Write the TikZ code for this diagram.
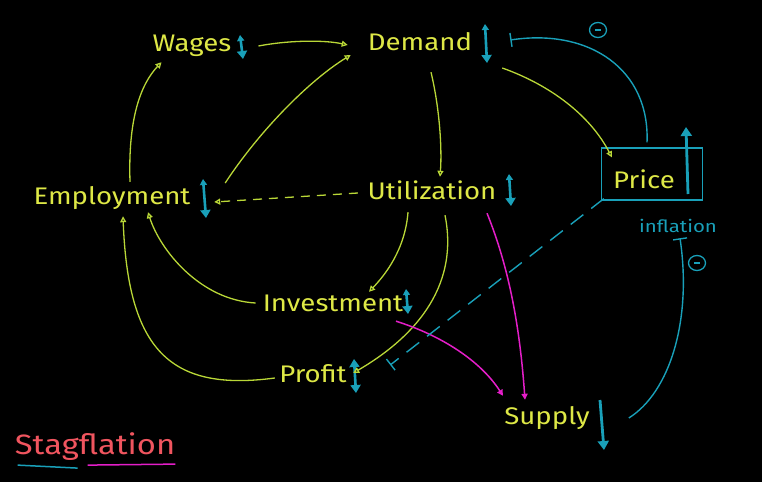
\documentclass[tikz,border=0pt]{standalone}
\usepackage{fontspec}
\setmainfont{Fira Sans}
\usetikzlibrary{arrows.meta,calc,shapes.geometric}
\definecolor{ytext}{RGB}{222,232,70}
\definecolor{garrow}{RGB}{185,215,55}
\definecolor{tealc}{RGB}{25,160,185}
\definecolor{magc}{RGB}{228,30,200}
\definecolor{pinkc}{RGB}{240,85,95}
\newcommand{\widetxt}[2][1.15]{\scalebox{#1}[1]{#2}}
\tikzset{
  lbl/.style={text=ytext,font=\fontsize{24}{28}\selectfont,inner sep=0pt,anchor=center},
  conn/.style={draw=garrow,line width=1.3pt,-{Triangle[open,length=6pt,width=6pt]}},
  magconn/.style={draw=magc,line width=1.5pt,-{Triangle[fill=magc,length=6pt,width=6pt]}},
  inhib/.style={draw=tealc,line width=1.4pt,-{Bar[width=14pt,line width=1.4pt]}},
  updown/.style={draw=tealc,line width=2.6pt,{Triangle[length=6pt,width=7pt]}-{Triangle[length=8pt,width=10pt]}},
  uparr/.style={draw=tealc,line width=2.8pt,-{Triangle[length=9pt,width=11pt]}},
  minus/.style={draw=tealc,line width=1.3pt,ellipse,minimum width=17pt,minimum height=15pt,inner sep=0pt}
}
\begin{document}
\begin{tikzpicture}[x=1pt,y=-1pt]
\fill[black] (0,0) rectangle (762,482);
\useasboundingbox (0,0) rectangle (762,482);
% labels
\node[lbl,minimum width=78pt,minimum height=24pt] (wages) at (192,46) {\widetxt{Wages}};
\node[lbl,minimum width=100pt,minimum height=26pt] (demand) at (420,42) {\widetxt{Demand}};
\node[lbl,minimum width=158pt,minimum height=30pt] (emp) at (112,198) {\widetxt{Employment}};
\node[lbl,minimum width=140pt,minimum height=28pt] (util) at (432,190) {\widetxt{Utilization}};
\node[lbl,minimum width=136pt,minimum height=26pt] (inv) at (333,303) {\widetxt{Investment}};
\node[lbl,minimum width=72pt,minimum height=28pt] (profit) at (313,374) {\widetxt{Profit}};
\node[lbl] (price) at (644,179) {\widetxt{Price}};
\node[lbl,minimum width=78pt,minimum height=30pt] (supply) at (547,418) {\widetxt{Supply}};
\node[draw=tealc,line width=1.3pt,minimum width=101pt,minimum height=52pt,inner sep=0pt] (pricebox) at (652,174) {};
\node[text=tealc,font=\fontsize{17}{20}\selectfont,inner sep=0pt,minimum width=80pt,minimum height=14pt] (infl) at (678,226) {\widetxt[1.2]{inflation}};
\node[text=pinkc,font=\fontsize{28}{32}\selectfont,inner sep=0pt] (stag) at (95,447) {\widetxt[1.17]{Stagflation}};
\draw[tealc,line width=1.5pt] ($(stag.south west)+(3,4)$) -- ($(stag.south west)+(63,7)$);
\draw[magc,line width=1.5pt] ($(stag.south west)+(73,4)$) -- ($(stag.south east)+(0,3)$);
% up/down arrows
\coordinate (wa1) at (240,35); \coordinate (wa2) at (243,59);
\draw[updown] (wa1) -- (wa2);
\coordinate (da1) at (485,24); \coordinate (da2) at (487,63);
\draw[updown] (da1) -- (da2);
\coordinate (ea1) at (203,179); \coordinate (ea2) at (206,218);
\draw[updown] (ea1) -- (ea2);
\coordinate (ua1) at (509,174); \coordinate (ua2) at (511,206);
\draw[updown] (ua1) -- (ua2);
\coordinate (ia1) at (406,289); \coordinate (ia2) at (408,314);
\draw[updown] (ia1) -- (ia2);
\coordinate (pa1) at (354,359); \coordinate (pa2) at (356,393);
\draw[draw=tealc,line width=2.6pt,{Triangle[length=8pt,width=10pt]}-{Triangle[length=8pt,width=10pt]}] (pa1) -- (pa2);
\coordinate (pra1) at (688,194); \coordinate (pra2) at (686,127);
\draw[uparr] (pra1) -- (pra2);
\coordinate (sa1) at (600,400); \coordinate (sa2) at (604,450);
\draw[uparr] (sa1) -- (sa2);
% green connectors
\draw[conn] ($(emp.north)+(18,-1)$) .. controls (128,120) and (140,85) .. ($(wages.south west)+(9,4)$);
\draw[conn] ($(wages.east)+(27,0)$) .. controls (290,40) and (325,40) .. ($(demand.west)+(-20,3)$);
\draw[conn] ($(emp.east)+(34,-15)$) .. controls (260,130) and (310,80) .. ($(demand.west)+(-17,13)$);
\draw[conn] ($(demand.south)+(11,17)$) .. controls (440,110) and (442,150) .. ($(util.north)+(8,1)$);
\draw[conn] ($(demand.east)+(30,26)$) .. controls (550,85) and (590,115) .. ($(pricebox.north west)+(11,10)$);
\draw[conn,dash pattern=on 9pt off 7pt] ($(util.west)+(-4,3)$) -- ($(emp.east)+(23,4)$);
\draw[conn] ($(util.south)+(-24,8)$) .. controls (405,250) and (385,275) .. ($(inv.north)+(36,2)$);
\draw[conn] ($(util.south)+(13,11)$) .. controls (460,290) and (410,340) .. ($(profit.east)+(4,-1)$);
\draw[conn] ($(inv.west)+(-7,0)$) .. controls (200,300) and (160,250) .. ($(emp.south)+(36,-1)$);
\draw[conn] ($(profit.west)+(-2,4)$) .. controls (170,392) and (128,350) .. ($(emp.south)+(11,3)$);
% magenta connectors
\draw[magconn] ($(util.south)+(55,9)$) .. controls (510,270) and (520,330) .. ($(supply.north)+(-22,-3)$);
\draw[magconn] ($(inv.south)+(63,5)$) .. controls (440,335) and (480,360) .. ($(supply.north)+(-44,-7)$);
% teal inhibitory connectors
\draw[inhib] ($(pricebox.north)+(-5,-5)$) .. controls (650,70) and (590,28) .. ($(demand.east)+(38,-2)$);
\draw[inhib,dash pattern=on 16pt off 10pt] ($(pricebox.south west)+(3,-2)$) -- ($(profit.east)+(41,-9)$);
\draw[inhib] ($(supply.east)+(39,0)$) .. controls (670,392) and (692,320) .. ($(infl.south)+(2,5)$);
\node[minus] (m1) at (598,30) {};
\node[minus] (m2) at (697,263) {};
\draw[tealc,line width=1.4pt] ($(m1.center)+(-3,0)$) -- ($(m1.center)+(3,0)$);
\draw[tealc,line width=1.4pt] ($(m2.center)+(-3,0)$) -- ($(m2.center)+(3,0)$);
\end{tikzpicture}
\end{document}
